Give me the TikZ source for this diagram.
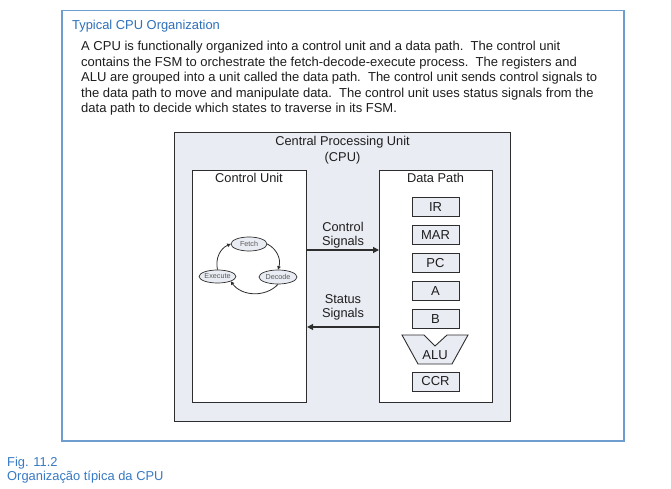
\documentclass[tikz,border=0pt]{standalone}
\usepackage{fontspec}
\setmainfont{Liberation Sans}
\usetikzlibrary{arrows.meta,shapes.geometric}
\definecolor{frameblue}{RGB}{110,158,208}
\definecolor{titleblue}{RGB}{45,112,185}
\definecolor{capblue}{RGB}{55,122,195}
\definecolor{boxfill}{RGB}{233,236,243}
\definecolor{ink}{RGB}{45,45,45}
\definecolor{txt}{RGB}{30,30,30}
\begin{document}
\begin{tikzpicture}[x=1pt,y=-1pt,
  bodyline/.style={anchor=base west,inner sep=0,text=txt,font=\fontsize{13}{15.4}\selectfont},
  unitbox/.style={draw=ink,line width=1.1pt,fill=white,anchor=north west,inner sep=0},
  lbl/.style={inner sep=0,text=txt,font=\fontsize{12.8}{14.3}\selectfont,align=center},
  reg/.style={draw=ink,line width=0.9pt,fill=boxfill,minimum width=47pt,minimum height=19pt,inner sep=0,text=txt,font=\fontsize{13}{13}\selectfont},
  state/.style={ellipse,draw=ink,line width=0.7pt,fill=boxfill,inner sep=0,text=black!65,font=\fontsize{7.2}{7.2}\selectfont},
  sig/.style={draw=ink,line width=1.2pt,-{Triangle[length=6pt,width=6pt]}},
  fsm/.style={draw=ink,line width=0.8pt,-{Triangle[length=3.5pt,width=3.5pt]}},
  capt/.style={anchor=base west,inner sep=0,text=capblue,font=\fontsize{12.9}{12.9}\selectfont}]
\useasboundingbox (0,0) rectangle (671,489);
\fill[white] (0,0) rectangle (671,489);
% outer frame
\node (frame) [draw=frameblue,line width=1.5pt,fill=white,anchor=north west,inner sep=0,
  minimum width=562pt,minimum height=430pt] at (61,10) {};
\node (title) [anchor=base west,inner sep=0,text=titleblue,font=\fontsize{12.9}{12.9}\selectfont] at (72,29.9) {Typical CPU Organization};
\node (l1) [bodyline] at (81,51.0) {A CPU is functionally organized into a control unit and a data path.\ \ The control unit};
\node (l2) [bodyline] at (81,66.5) {contains the FSM to orchestrate the fetch-decode-execute process.\ \ The registers and};
\node (l3) [bodyline] at (81,82.0) {ALU are grouped into a unit called the data path.\ \ The control unit sends control signals to};
\node (l4) [bodyline] at (81,97.5) {the data path to move and manipulate data.\ \ The control unit uses status signals from the};
\node (l5) [bodyline] at (81,113.0) {data path to decide which states to traverse in its FSM.};
% CPU
\node (cpu) [draw=ink,line width=1.1pt,fill=boxfill,anchor=north west,inner sep=0,
  minimum width=336pt,minimum height=289pt] at (174,132) {};
\node (cputitle) [lbl,font=\fontsize{12.8}{15.7}\selectfont] at (342.5,150.2) {Central Processing Unit\\(CPU)};
\node (cu) [unitbox,minimum width=114pt,minimum height=232pt] at (192,170) {};
\node (dp) [unitbox,minimum width=113pt,minimum height=232pt] at (379,170) {};
\node (cul) [lbl,anchor=base] at (249,182.2) {Control Unit};
\node (dpl) [lbl,anchor=base] at (435.5,182.2) {Data Path};
% registers
\node (ir)  [reg] at (435.5,207) {IR};
\node (mar) [reg] at (435.5,235) {MAR};
\node (pc)  [reg] at (435.5,263) {PC};
\node (ra)  [reg] at (435.5,291) {A};
\node (rb)  [reg] at (435.5,319) {B};
\node (ccr) [reg] at (435.5,381.5) {CCR};
\draw[draw=ink,line width=0.9pt,fill=boxfill,line join=miter]
  (402,335) -- (424,335) -- (435,346) -- (447,335) -- (468,335) -- (452,364) -- (418,364) -- cycle;
\node (alu) [inner sep=0,text=txt,font=\fontsize{13}{13}\selectfont] at (435,355.5) {ALU};
% signals
\coordinate (cy) at (0,250);
\coordinate (sy) at (0,327);
\draw[sig] (cu.east |- cy) -- (dp.west |- cy);
\draw[sig] (dp.west |- sy) -- (cu.east |- sy);
\node (ctl) [lbl] at (343,235) {Control\\Signals};
\node (sts) [lbl] at (343,307.5) {Status\\Signals};
% FSM
\node (fetch) [state,minimum width=36pt,minimum height=14pt] at (249,244) {Fetch};
\node (exe)   [state,minimum width=31pt,minimum height=13pt] at (217.5,276.5) {Execute};
\node (dec)   [state,minimum width=38pt,minimum height=14pt] at (278,277) {Decode};
\draw[fsm] (exe.north) to[bend left=40] (fetch.west);
\draw[fsm] (fetch.east) to[bend left=40] (dec.north);
\draw[fsm] (dec.south) to[bend left=50] (exe.south east);
% caption
\node (fig) [capt] at (7,466.3) {Fig. 11.2};
\node (org) [capt] at (7,480.6) {Organização típica da CPU};
\end{tikzpicture}
\end{document}
